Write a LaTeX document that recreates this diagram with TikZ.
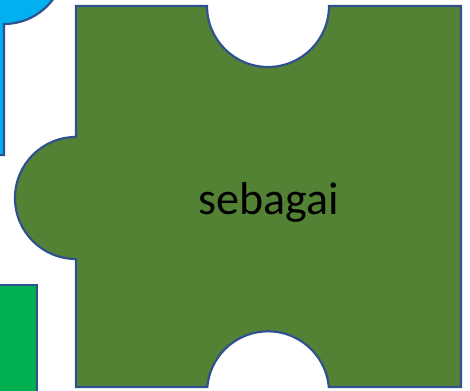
\documentclass[tikz,border=0pt]{standalone}
\usepackage{fontspec}
\setmainfont{Carlito}
\usepackage{tikz}
\definecolor{piecegreen}{HTML}{548235}
\definecolor{pieceblue}{HTML}{00B0F0}
\definecolor{piecelime}{HTML}{00B050}
\definecolor{pieceedge}{HTML}{2F528F}

\begin{document}
\begin{tikzpicture}[x=1pt,y=1pt,
    piece/.style={draw=pieceedge,line width=2.2pt,line join=miter}]
  \clip (0,0) rectangle (470,390);
  % neighbour pieces, only partly in view
  \fill[pieceblue] (-10,235) -- (4,235) -- (4,366)
    arc[start angle=-90,end angle=-20,radius=61] -- (-10,400) -- cycle;
  \draw[piece] (-10,235) -- (4,235) -- (4,366)
    arc[start angle=-90,end angle=-20,radius=61];
  \draw[piece,fill=piecelime] (-10,-10) -- (37,-10) -- (37,105) -- (-10,105) -- cycle;
  % the main piece
  \draw[piece,fill=piecegreen] (76,384) -- (207,384)
    arc[start angle=180,end angle=360,radius=61] -- (461,384)
    -- (461,3) -- (328.8,3)
    arc[start angle=5,end angle=175,radius=61] -- (76,3)
    -- (76,131) arc[start angle=-90,end angle=-270,radius=61]
    -- cycle;
  \node[anchor=base,font=\fontsize{46}{50}\selectfont] (word) at (268.5,175) {sebagai};
\end{tikzpicture}
\end{document}
